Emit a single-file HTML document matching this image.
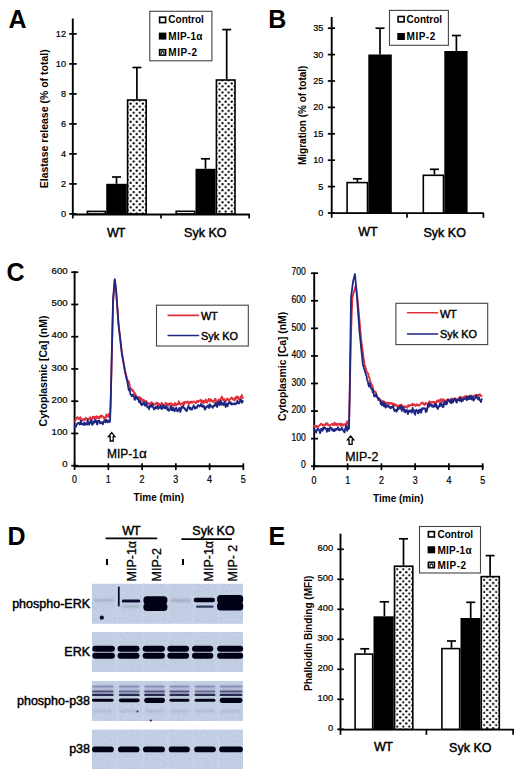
<!DOCTYPE html>
<html><head><meta charset="utf-8"><style>
html,body{margin:0;padding:0;background:#fff;}
svg{display:block;}
text{font-family:"Liberation Sans", sans-serif;fill:#000;}
</style></head><body>
<svg width="520" height="769" viewBox="0 0 520 769">
<defs><pattern id="d1" x="129.12" y="102.07" width="6.1" height="6.1" patternUnits="userSpaceOnUse"><rect width="6.1" height="6.1" fill="#fff"/><circle cx="1.525" cy="1.525" r="1.15" fill="#000"/><circle cx="4.575" cy="4.575" r="1.15" fill="#000"/></pattern><pattern id="d2" x="217.97" y="100.17" width="6.1" height="6.1" patternUnits="userSpaceOnUse"><rect width="6.1" height="6.1" fill="#fff"/><circle cx="1.525" cy="1.525" r="1.15" fill="#000"/><circle cx="4.575" cy="4.575" r="1.15" fill="#000"/></pattern><pattern id="d3" x="395.69" y="567.69" width="6.05" height="6.05" patternUnits="userSpaceOnUse"><rect width="6.05" height="6.05" fill="#fff"/><circle cx="1.512" cy="1.512" r="1.15" fill="#000"/><circle cx="4.537" cy="4.537" r="1.15" fill="#000"/></pattern><pattern id="d4" x="482.59" y="578.39" width="6.05" height="6.05" patternUnits="userSpaceOnUse"><rect width="6.05" height="6.05" fill="#fff"/><circle cx="1.512" cy="1.512" r="1.15" fill="#000"/><circle cx="4.537" cy="4.537" r="1.15" fill="#000"/></pattern><filter id="grain" x="0" y="0" width="100%" height="100%"><feTurbulence type="fractalNoise" baseFrequency="0.35 0.5" numOctaves="2" seed="3" result="n"/><feColorMatrix type="matrix" values="0 0 0 0 0.25  0 0 0 0 0.25  0 0 0 0 0.4  0 0 0 -2.2 1.25"/></filter><filter id="b1" x="-30%" y="-150%" width="160%" height="400%"><feGaussianBlur stdDeviation="0.1"/></filter><filter id="b2" x="-30%" y="-150%" width="160%" height="400%"><feGaussianBlur stdDeviation="0.2"/></filter><filter id="b3" x="-30%" y="-150%" width="160%" height="400%"><feGaussianBlur stdDeviation="0.3"/></filter><filter id="b4" x="-30%" y="-150%" width="160%" height="400%"><feGaussianBlur stdDeviation="0.4"/></filter><filter id="b5" x="-30%" y="-150%" width="160%" height="400%"><feGaussianBlur stdDeviation="0.5"/></filter><filter id="b6" x="-30%" y="-150%" width="160%" height="400%"><feGaussianBlur stdDeviation="0.6"/></filter><filter id="b7" x="-30%" y="-150%" width="160%" height="400%"><feGaussianBlur stdDeviation="0.7"/></filter><filter id="b8" x="-30%" y="-150%" width="160%" height="400%"><feGaussianBlur stdDeviation="0.8"/></filter><filter id="b9" x="-30%" y="-150%" width="160%" height="400%"><feGaussianBlur stdDeviation="0.9"/></filter><filter id="b10" x="-30%" y="-150%" width="160%" height="400%"><feGaussianBlur stdDeviation="1.0"/></filter><filter id="b11" x="-30%" y="-150%" width="160%" height="400%"><feGaussianBlur stdDeviation="1.1"/></filter><filter id="b12" x="-30%" y="-150%" width="160%" height="400%"><feGaussianBlur stdDeviation="1.2"/></filter><filter id="b13" x="-30%" y="-150%" width="160%" height="400%"><feGaussianBlur stdDeviation="1.3"/></filter><filter id="b14" x="-30%" y="-150%" width="160%" height="400%"><feGaussianBlur stdDeviation="1.4"/></filter></defs>
<rect width="520" height="769" fill="#fff"/>
<text x="8.6" y="27.5" font-size="25" font-weight="bold" text-anchor="start" >A</text>
<line x1="72.8" y1="18.5" x2="72.8" y2="215.3" stroke="#000" stroke-width="1.9"/>
<line x1="72" y1="214.5" x2="249.8" y2="214.5" stroke="#000" stroke-width="1.9"/>
<line x1="69.2" y1="213.9" x2="76.7" y2="213.9" stroke="#000" stroke-width="1.7"/>
<text transform="translate(66.00,216.70) scale(0.93,1)" font-size="9.9" text-anchor="end" stroke="#000" stroke-width="0.22">0</text>
<line x1="69.2" y1="183.9" x2="76.7" y2="183.9" stroke="#000" stroke-width="1.7"/>
<text transform="translate(66.00,186.70) scale(0.93,1)" font-size="9.9" text-anchor="end" stroke="#000" stroke-width="0.22">2</text>
<line x1="69.2" y1="153.9" x2="76.7" y2="153.9" stroke="#000" stroke-width="1.7"/>
<text transform="translate(66.00,156.70) scale(0.93,1)" font-size="9.9" text-anchor="end" stroke="#000" stroke-width="0.22">4</text>
<line x1="69.2" y1="123.9" x2="76.7" y2="123.9" stroke="#000" stroke-width="1.7"/>
<text transform="translate(66.00,126.70) scale(0.93,1)" font-size="9.9" text-anchor="end" stroke="#000" stroke-width="0.22">6</text>
<line x1="69.2" y1="93.9" x2="76.7" y2="93.9" stroke="#000" stroke-width="1.7"/>
<text transform="translate(66.00,96.70) scale(0.93,1)" font-size="9.9" text-anchor="end" stroke="#000" stroke-width="0.22">8</text>
<line x1="69.2" y1="63.900000000000006" x2="76.7" y2="63.900000000000006" stroke="#000" stroke-width="1.7"/>
<text transform="translate(66.00,66.70) scale(0.93,1)" font-size="9.9" text-anchor="end" stroke="#000" stroke-width="0.22">10</text>
<line x1="69.2" y1="33.900000000000006" x2="76.7" y2="33.900000000000006" stroke="#000" stroke-width="1.7"/>
<text transform="translate(66.00,36.70) scale(0.93,1)" font-size="9.9" text-anchor="end" stroke="#000" stroke-width="0.22">12</text>
<line x1="72.8" y1="214" x2="72.8" y2="218.5" stroke="#000" stroke-width="1.7"/>
<line x1="161.0" y1="214" x2="161.0" y2="218.5" stroke="#000" stroke-width="1.7"/>
<line x1="249.2" y1="214" x2="249.2" y2="218.5" stroke="#000" stroke-width="1.7"/>
<rect x="87.40" y="211.40" width="18.00" height="2.50" fill="#fff" stroke="#000" stroke-width="1.6"/>
<rect x="107.00" y="184.60" width="19.00" height="29.30" fill="#000" stroke="#000" stroke-width="1.6"/>
<rect x="127.60" y="100.00" width="18.60" height="113.90" fill="url(#d1)" stroke="#000" stroke-width="1.6"/>
<line x1="116.5" y1="177.0" x2="116.5" y2="183.8" stroke="#000" stroke-width="1.7"/>
<line x1="112.0" y1="177.0" x2="121.0" y2="177.0" stroke="#000" stroke-width="1.7"/>
<line x1="136.9" y1="67.5" x2="136.9" y2="99.2" stroke="#000" stroke-width="1.7"/>
<line x1="132.4" y1="67.5" x2="141.4" y2="67.5" stroke="#000" stroke-width="1.7"/>
<rect x="176.20" y="211.30" width="18.50" height="2.60" fill="#fff" stroke="#000" stroke-width="1.6"/>
<rect x="196.30" y="169.60" width="18.50" height="44.30" fill="#000" stroke="#000" stroke-width="1.6"/>
<rect x="216.40" y="80.00" width="18.60" height="133.90" fill="url(#d2)" stroke="#000" stroke-width="1.6"/>
<line x1="205.5" y1="158.8" x2="205.5" y2="168.8" stroke="#000" stroke-width="1.7"/>
<line x1="201.0" y1="158.8" x2="210.0" y2="158.8" stroke="#000" stroke-width="1.7"/>
<line x1="226.7" y1="29.6" x2="226.7" y2="79.2" stroke="#000" stroke-width="1.7"/>
<line x1="222.2" y1="29.6" x2="231.2" y2="29.6" stroke="#000" stroke-width="1.7"/>
<text x="115.8" y="236.6" font-size="12.5" font-weight="normal" text-anchor="middle" stroke="#000" stroke-width="0.45" letter-spacing="-0.9">WT</text>
<text x="205.3" y="236.9" font-size="12.5" font-weight="normal" text-anchor="middle" stroke="#000" stroke-width="0.45" >Syk KO</text>
<text transform="translate(47.9,118.8) rotate(-90)" x="0" y="0" font-size="10.5" font-weight="bold" text-anchor="middle" >Elastase release (% of total)</text>
<rect x="149.8" y="11.3" width="62.1" height="49.5" fill="none" stroke="#444" stroke-width="1.1" />
<rect x="159.60000000000002" y="17.2" width="6.0" height="5.4" fill="#fff" stroke="#000" stroke-width="1.6"/>
<text x="168.3" y="23.4" font-size="10" font-weight="bold" text-anchor="start" >Control</text>
<rect x="158.8" y="32.6" width="7.6" height="7.0" fill="#000"/>
<text x="168.3" y="39.6" font-size="10" font-weight="bold" text-anchor="start" letter-spacing="0.25">MIP-1α</text>
<rect x="159.60000000000002" y="49.699999999999996" width="6.0" height="5.4" fill="#fff" stroke="#000" stroke-width="1.6"/>
<path d="M161.20000000000002 54.1 L161.20000000000002 52.3 L162.60000000000002 51.199999999999996 L164.0 52.3 L164.0 54.1" fill="none" stroke="#000" stroke-width="1.1"/>
<text x="168.3" y="56.0" font-size="10" font-weight="bold" text-anchor="start" letter-spacing="0.55">MIP-2</text>
<text x="268.2" y="27.8" font-size="25" font-weight="bold" text-anchor="start" >B</text>
<line x1="331.7" y1="17.0" x2="331.7" y2="214.0" stroke="#000" stroke-width="1.9"/>
<line x1="330.8" y1="213.1" x2="483.8" y2="213.1" stroke="#000" stroke-width="1.9"/>
<line x1="327.8" y1="213.0" x2="335.0" y2="213.0" stroke="#000" stroke-width="1.7"/>
<text transform="translate(323.40,215.90) scale(0.93,1)" font-size="9.8" text-anchor="end" stroke="#000" stroke-width="0.22">0</text>
<line x1="327.8" y1="186.6" x2="335.0" y2="186.6" stroke="#000" stroke-width="1.7"/>
<text transform="translate(323.40,189.50) scale(0.93,1)" font-size="9.8" text-anchor="end" stroke="#000" stroke-width="0.22">5</text>
<line x1="327.8" y1="160.2" x2="335.0" y2="160.2" stroke="#000" stroke-width="1.7"/>
<text transform="translate(323.40,163.10) scale(0.93,1)" font-size="9.8" text-anchor="end" stroke="#000" stroke-width="0.22">10</text>
<line x1="327.8" y1="133.8" x2="335.0" y2="133.8" stroke="#000" stroke-width="1.7"/>
<text transform="translate(323.40,136.70) scale(0.93,1)" font-size="9.8" text-anchor="end" stroke="#000" stroke-width="0.22">15</text>
<line x1="327.8" y1="107.39999999999999" x2="335.0" y2="107.39999999999999" stroke="#000" stroke-width="1.7"/>
<text transform="translate(323.40,110.30) scale(0.93,1)" font-size="9.8" text-anchor="end" stroke="#000" stroke-width="0.22">20</text>
<line x1="327.8" y1="81.0" x2="335.0" y2="81.0" stroke="#000" stroke-width="1.7"/>
<text transform="translate(323.40,83.90) scale(0.93,1)" font-size="9.8" text-anchor="end" stroke="#000" stroke-width="0.22">25</text>
<line x1="327.8" y1="54.599999999999994" x2="335.0" y2="54.599999999999994" stroke="#000" stroke-width="1.7"/>
<text transform="translate(323.40,57.50) scale(0.93,1)" font-size="9.8" text-anchor="end" stroke="#000" stroke-width="0.22">30</text>
<line x1="327.8" y1="28.19999999999999" x2="335.0" y2="28.19999999999999" stroke="#000" stroke-width="1.7"/>
<text transform="translate(323.40,31.10) scale(0.93,1)" font-size="9.8" text-anchor="end" stroke="#000" stroke-width="0.22">35</text>
<line x1="331.7" y1="213" x2="331.7" y2="217.8" stroke="#000" stroke-width="1.7"/>
<line x1="407.0" y1="213" x2="407.0" y2="217.8" stroke="#000" stroke-width="1.7"/>
<line x1="483.4" y1="213" x2="483.4" y2="217.8" stroke="#000" stroke-width="1.7"/>
<rect x="347.10" y="182.60" width="20.40" height="30.40" fill="#fff" stroke="#000" stroke-width="1.6"/>
<rect x="369.10" y="55.30" width="21.90" height="157.70" fill="#000" stroke="#000" stroke-width="1.6"/>
<line x1="357.4" y1="178.8" x2="357.4" y2="181.8" stroke="#000" stroke-width="1.7"/>
<line x1="352.9" y1="178.8" x2="361.9" y2="178.8" stroke="#000" stroke-width="1.7"/>
<line x1="380.0" y1="28.2" x2="380.0" y2="54.5" stroke="#000" stroke-width="1.7"/>
<line x1="375.5" y1="28.2" x2="384.5" y2="28.2" stroke="#000" stroke-width="1.7"/>
<rect x="423.30" y="175.30" width="20.20" height="37.70" fill="#fff" stroke="#000" stroke-width="1.6"/>
<rect x="445.10" y="51.80" width="21.70" height="161.20" fill="#000" stroke="#000" stroke-width="1.6"/>
<line x1="434.4" y1="169.3" x2="434.4" y2="174.5" stroke="#000" stroke-width="1.7"/>
<line x1="429.9" y1="169.3" x2="438.9" y2="169.3" stroke="#000" stroke-width="1.7"/>
<line x1="456.4" y1="35.5" x2="456.4" y2="51.0" stroke="#000" stroke-width="1.7"/>
<line x1="451.9" y1="35.5" x2="460.9" y2="35.5" stroke="#000" stroke-width="1.7"/>
<text x="368.0" y="235.6" font-size="12.5" font-weight="normal" text-anchor="middle" stroke="#000" stroke-width="0.45" >WT</text>
<text x="444.7" y="236.8" font-size="12.5" font-weight="normal" text-anchor="middle" stroke="#000" stroke-width="0.45" >Syk KO</text>
<text transform="translate(305.6,115.3) rotate(-90)" x="0" y="0" font-size="10" font-weight="bold" text-anchor="middle" >Migration (% of total)</text>
<rect x="389.5" y="10.4" width="58.9" height="34.9" fill="none" stroke="#444" stroke-width="1.1" />
<rect x="398.1" y="16.5" width="6.0" height="5.4" fill="#fff" stroke="#000" stroke-width="1.6"/>
<text x="406.6" y="22.8" font-size="10" font-weight="bold" text-anchor="start" >Control</text>
<rect x="397.3" y="33.0" width="7.6" height="7.0" fill="#000"/>
<text x="406.6" y="40.1" font-size="10" font-weight="bold" text-anchor="start" letter-spacing="0.5">MIP-2</text>
<text x="6.5" y="280.9" font-size="25" font-weight="bold" text-anchor="start" >C</text>
<line x1="74.6" y1="271.0" x2="74.6" y2="467.0" stroke="#000" stroke-width="1.9"/>
<line x1="73.7" y1="466.3" x2="244.0" y2="466.3" stroke="#000" stroke-width="1.9"/>
<line x1="71.2" y1="465.7" x2="78.3" y2="465.7" stroke="#000" stroke-width="1.7"/>
<text transform="translate(67.60,467.30) scale(0.98,1)" font-size="9.8" text-anchor="end" stroke="#000" stroke-width="0.22">0</text>
<line x1="71.2" y1="433.45" x2="78.3" y2="433.45" stroke="#000" stroke-width="1.7"/>
<text transform="translate(67.60,435.05) scale(0.98,1)" font-size="9.8" text-anchor="end" stroke="#000" stroke-width="0.22">100</text>
<line x1="71.2" y1="401.2" x2="78.3" y2="401.2" stroke="#000" stroke-width="1.7"/>
<text transform="translate(67.60,402.80) scale(0.98,1)" font-size="9.8" text-anchor="end" stroke="#000" stroke-width="0.22">200</text>
<line x1="71.2" y1="368.95" x2="78.3" y2="368.95" stroke="#000" stroke-width="1.7"/>
<text transform="translate(67.60,370.55) scale(0.98,1)" font-size="9.8" text-anchor="end" stroke="#000" stroke-width="0.22">300</text>
<line x1="71.2" y1="336.7" x2="78.3" y2="336.7" stroke="#000" stroke-width="1.7"/>
<text transform="translate(67.60,338.30) scale(0.98,1)" font-size="9.8" text-anchor="end" stroke="#000" stroke-width="0.22">400</text>
<line x1="71.2" y1="304.45" x2="78.3" y2="304.45" stroke="#000" stroke-width="1.7"/>
<text transform="translate(67.60,306.05) scale(0.98,1)" font-size="9.8" text-anchor="end" stroke="#000" stroke-width="0.22">500</text>
<line x1="71.2" y1="272.2" x2="78.3" y2="272.2" stroke="#000" stroke-width="1.7"/>
<text transform="translate(67.60,273.80) scale(0.98,1)" font-size="9.8" text-anchor="end" stroke="#000" stroke-width="0.22">600</text>
<line x1="74.6" y1="463.3" x2="74.6" y2="470.0" stroke="#000" stroke-width="1.7"/>
<text transform="translate(74.60,482.60) scale(0.86,1)" font-size="10.4" text-anchor="middle" stroke="#000" stroke-width="0.22">0</text>
<line x1="108.35" y1="463.3" x2="108.35" y2="470.0" stroke="#000" stroke-width="1.7"/>
<text transform="translate(108.35,482.60) scale(0.86,1)" font-size="10.4" text-anchor="middle" stroke="#000" stroke-width="0.22">1</text>
<line x1="142.1" y1="463.3" x2="142.1" y2="470.0" stroke="#000" stroke-width="1.7"/>
<text transform="translate(142.10,482.60) scale(0.86,1)" font-size="10.4" text-anchor="middle" stroke="#000" stroke-width="0.22">2</text>
<line x1="175.85" y1="463.3" x2="175.85" y2="470.0" stroke="#000" stroke-width="1.7"/>
<text transform="translate(175.85,482.60) scale(0.86,1)" font-size="10.4" text-anchor="middle" stroke="#000" stroke-width="0.22">3</text>
<line x1="209.6" y1="463.3" x2="209.6" y2="470.0" stroke="#000" stroke-width="1.7"/>
<text transform="translate(209.60,482.60) scale(0.86,1)" font-size="10.4" text-anchor="middle" stroke="#000" stroke-width="0.22">4</text>
<line x1="243.35" y1="463.3" x2="243.35" y2="470.0" stroke="#000" stroke-width="1.7"/>
<text transform="translate(243.35,482.60) scale(0.86,1)" font-size="10.4" text-anchor="middle" stroke="#000" stroke-width="0.22">5</text>
<text x="158.8" y="500.8" font-size="10" font-weight="bold" text-anchor="middle" >Time (min)</text>
<text transform="translate(46.6,371.0) rotate(-90)" x="0" y="0" font-size="10.5" font-weight="bold" text-anchor="middle" >Cytoplasmic [Ca] (nM)</text>
<polyline points="74.60,420.55 75.00,421.32 75.41,420.31 75.81,418.96 76.22,417.95 76.62,418.55 77.03,417.78 77.43,416.96 77.84,418.18 78.24,418.71 78.65,419.37 79.05,418.22 79.46,418.55 79.86,418.64 80.27,417.22 80.67,418.54 81.08,418.97 81.48,421.24 81.89,420.17 82.30,419.28 82.70,420.19 83.10,419.60 83.51,420.00 83.91,418.91 84.32,418.93 84.72,419.74 85.13,419.80 85.53,419.24 85.94,417.74 86.34,418.50 86.75,418.50 87.16,419.13 87.56,418.92 87.97,419.68 88.37,418.90 88.78,418.75 89.18,419.13 89.59,417.55 89.99,417.43 90.40,417.25 90.80,419.63 91.20,418.73 91.61,419.02 92.02,419.11 92.42,418.24 92.83,416.52 93.23,418.16 93.64,417.60 94.04,418.42 94.45,416.80 94.85,416.84 95.26,418.54 95.66,419.55 96.06,417.31 96.47,416.14 96.88,416.83 97.28,417.93 97.69,417.90 98.09,418.01 98.50,416.76 98.90,417.70 99.31,418.68 99.71,417.61 100.12,416.06 100.52,415.94 100.93,417.39 101.33,415.60 101.74,416.34 102.14,415.79 102.55,416.36 102.95,416.52 103.36,416.84 103.76,418.48 104.17,418.20 104.57,418.96 104.98,417.85 105.38,416.94 105.79,417.33 106.19,414.29 106.60,415.56 107.00,416.37 107.41,415.37 107.81,416.56 108.22,416.11 108.62,413.97 108.76,415.16 108.89,414.98 109.03,415.34 109.16,415.88 109.30,417.56 109.43,416.72 109.57,416.71 109.70,416.70 109.84,416.69 109.97,416.68 110.11,415.13 110.24,412.04 110.38,408.94 110.51,405.84 110.65,402.75 110.78,398.40 110.92,392.81 111.05,387.22 111.19,381.63 111.32,376.04 111.46,370.45 111.59,364.86 111.73,359.27 111.86,353.79 112.00,348.31 112.13,342.83 112.27,337.34 112.40,331.86 112.54,326.38 112.67,320.90 112.81,315.41 112.94,309.93 113.08,304.45 113.21,302.51 113.35,300.58 113.48,298.64 113.62,296.71 113.75,294.77 113.89,292.84 114.02,290.90 114.16,288.97 114.29,287.03 114.43,285.10 114.56,283.16 114.70,281.23 114.83,280.83 114.97,281.96 115.10,283.08 115.24,284.21 115.37,285.34 115.51,286.47 115.64,287.60 115.78,288.73 115.91,289.86 116.05,290.99 116.18,292.47 116.32,294.31 116.45,296.16 116.59,298.00 116.72,299.84 116.86,301.69 116.99,303.53 117.13,305.37 117.26,307.21 117.40,309.06 117.53,310.90 117.67,312.74 117.80,314.59 117.94,316.43 118.07,318.27 118.21,320.11 118.34,321.96 118.48,323.80 118.61,324.94 118.75,326.07 118.88,327.21 119.02,328.34 119.15,329.48 119.29,330.61 119.42,331.75 119.56,332.88 119.69,334.02 119.83,335.15 119.96,336.29 120.10,337.42 120.23,338.56 120.37,339.69 120.50,340.83 120.64,341.96 120.77,343.10 120.91,344.23 121.04,345.37 121.18,346.50 121.31,347.64 121.45,348.77 121.58,349.91 121.72,351.04 121.85,352.18 121.99,352.95 122.12,353.73 122.26,354.50 122.39,355.28 122.53,356.05 122.66,356.82 122.80,357.60 122.93,358.37 123.07,359.15 123.20,359.92 123.34,360.69 123.47,361.47 123.61,362.24 123.74,363.02 123.88,363.79 124.01,364.56 124.15,365.34 124.28,366.11 124.42,366.89 124.55,367.66 124.69,368.43 124.82,369.21 124.96,369.98 125.09,370.76 125.23,371.53 125.63,373.08 126.04,374.63 126.44,376.17 126.85,377.72 127.25,379.12 127.66,380.36 128.06,383.27 128.47,383.34 128.87,381.50 129.28,383.77 129.68,384.96 130.09,387.20 130.49,387.75 130.90,388.46 131.30,389.60 131.71,389.72 132.11,390.54 132.52,389.58 132.92,391.20 133.33,390.92 133.73,391.37 134.14,392.97 134.54,394.22 134.95,393.16 135.35,395.87 135.76,394.86 136.16,396.01 136.57,396.94 136.97,396.91 137.38,397.07 137.78,399.01 138.19,399.31 138.59,399.24 139.00,396.98 139.40,396.97 139.81,398.97 140.21,399.09 140.62,398.09 141.02,397.99 141.43,398.37 141.83,399.64 142.24,400.07 142.64,400.98 143.05,399.71 143.45,400.97 143.86,400.21 144.26,400.12 144.67,402.19 145.07,401.66 145.48,401.28 145.88,401.10 146.29,400.93 146.69,402.88 147.10,403.76 147.50,403.63 147.91,403.12 148.31,403.82 148.72,403.14 149.12,403.33 149.53,403.38 149.93,403.11 150.34,404.56 150.74,405.42 151.15,405.44 151.55,402.24 151.96,404.41 152.36,404.39 152.77,403.25 153.17,403.13 153.58,404.25 153.98,404.88 154.39,404.89 154.79,404.21 155.20,403.79 155.60,404.40 156.01,403.80 156.41,402.72 156.82,402.48 157.22,402.87 157.63,403.56 158.03,405.86 158.44,403.40 158.84,404.04 159.25,403.82 159.65,404.13 160.06,405.35 160.46,405.88 160.87,404.77 161.27,403.84 161.68,402.59 162.08,403.28 162.49,404.96 162.89,404.26 163.30,404.89 163.70,405.20 164.11,405.05 164.51,405.66 164.92,404.77 165.32,403.61 165.73,402.68 166.13,404.32 166.54,403.85 166.94,403.66 167.35,404.72 167.75,403.62 168.16,405.63 168.56,405.53 168.97,404.29 169.37,403.56 169.78,404.91 170.18,403.32 170.59,403.07 170.99,403.59 171.40,404.05 171.80,404.09 172.21,404.48 172.61,403.93 173.02,403.89 173.42,405.26 173.83,405.33 174.23,404.27 174.64,405.90 175.04,403.01 175.45,403.64 175.85,404.54 176.26,405.25 176.66,404.73 177.07,403.96 177.47,404.52 177.88,404.00 178.28,404.39 178.69,401.24 179.09,402.88 179.50,402.51 179.90,404.03 180.31,404.58 180.71,404.82 181.12,403.79 181.52,404.09 181.93,403.44 182.33,403.66 182.74,403.40 183.14,402.51 183.55,404.90 183.95,404.82 184.36,401.98 184.76,403.49 185.17,401.94 185.57,402.30 185.98,402.12 186.38,402.05 186.79,402.78 187.19,402.55 187.60,401.30 188.00,402.09 188.41,402.84 188.81,404.60 189.22,403.28 189.62,401.83 190.03,401.89 190.43,402.93 190.84,401.90 191.24,401.52 191.65,402.59 192.05,402.54 192.46,402.73 192.86,401.96 193.27,401.35 193.67,401.53 194.08,401.77 194.48,401.69 194.89,402.40 195.29,402.85 195.70,403.06 196.10,403.07 196.51,401.70 196.91,400.75 197.32,402.19 197.72,402.09 198.13,402.14 198.53,400.86 198.94,401.15 199.34,400.84 199.75,400.45 200.15,400.47 200.56,399.59 200.96,400.71 201.37,402.34 201.77,401.25 202.18,401.50 202.58,400.41 202.99,401.61 203.39,403.39 203.80,401.16 204.20,401.03 204.61,402.60 205.01,402.30 205.42,401.89 205.82,399.50 206.23,400.18 206.63,401.57 207.04,402.76 207.44,402.55 207.85,401.20 208.25,400.40 208.66,398.84 209.06,398.79 209.47,400.94 209.87,400.76 210.28,399.43 210.68,401.40 211.09,399.38 211.49,401.28 211.90,400.63 212.30,400.94 212.70,401.42 213.11,401.23 213.51,402.12 213.92,401.29 214.32,400.51 214.73,399.77 215.13,398.59 215.54,398.74 215.94,400.47 216.35,401.16 216.75,402.05 217.16,403.81 217.56,402.66 217.97,401.85 218.37,399.61 218.78,399.54 219.18,401.93 219.59,401.44 219.99,400.50 220.40,400.46 220.80,398.22 221.21,398.14 221.61,397.61 222.02,396.49 222.42,398.82 222.83,400.16 223.23,399.67 223.64,399.93 224.04,398.69 224.45,399.51 224.85,400.21 225.26,401.31 225.66,401.87 226.07,401.05 226.47,400.01 226.88,398.77 227.28,398.36 227.69,399.35 228.09,399.78 228.50,399.42 228.90,400.87 229.31,400.56 229.71,399.76 230.12,399.13 230.52,399.06 230.93,397.98 231.33,397.39 231.74,398.41 232.14,397.96 232.55,398.03 232.95,399.54 233.36,398.86 233.76,400.01 234.17,399.24 234.57,400.36 234.98,399.85 235.38,397.36 235.79,399.08 236.19,398.48 236.60,396.41 237.00,397.43 237.41,397.96 237.81,396.76 238.22,396.82 238.62,397.99 239.03,399.42 239.43,399.85 239.84,400.12 240.24,400.14 240.65,396.52 241.05,396.45 241.46,397.31 241.86,394.84 242.27,397.05 242.67,398.26 243.08,397.17" fill="none" stroke="#e0303c" stroke-width="1.8" stroke-linejoin="round"/>
<polyline points="74.60,428.19 75.00,425.95 75.41,426.08 75.81,425.83 76.22,426.51 76.62,424.14 77.03,424.13 77.43,423.69 77.84,423.07 78.24,423.01 78.65,423.36 79.05,423.79 79.46,423.24 79.86,424.53 80.27,424.00 80.67,420.53 81.08,424.04 81.48,423.88 81.89,423.36 82.30,424.29 82.70,424.69 83.10,424.66 83.51,423.53 83.91,424.20 84.32,422.44 84.72,425.12 85.13,423.19 85.53,423.47 85.94,423.86 86.34,424.28 86.75,423.91 87.16,424.58 87.56,419.95 87.97,421.70 88.37,422.49 88.78,422.53 89.18,424.89 89.59,423.04 89.99,423.17 90.40,420.87 90.80,422.47 91.20,420.96 91.61,420.25 92.02,424.61 92.42,424.78 92.83,423.98 93.23,423.78 93.64,421.71 94.04,421.12 94.45,422.60 94.85,420.23 95.26,421.93 95.66,420.32 96.06,421.75 96.47,420.94 96.88,424.00 97.28,424.62 97.69,423.04 98.09,420.56 98.50,420.64 98.90,421.55 99.31,420.85 99.71,422.03 100.12,423.46 100.52,422.88 100.93,422.11 101.33,423.18 101.74,422.39 102.14,423.37 102.55,422.41 102.95,424.27 103.36,422.87 103.76,421.20 104.17,421.76 104.57,421.12 104.98,420.41 105.38,421.03 105.79,422.39 106.19,419.49 106.60,420.61 107.00,421.02 107.41,421.21 107.81,422.44 108.22,420.47 108.62,421.86 108.76,421.48 108.89,421.70 109.03,421.39 109.16,421.11 109.30,420.72 109.43,421.90 109.57,421.89 109.70,421.87 109.84,421.86 109.97,421.85 110.11,419.78 110.24,415.65 110.38,411.52 110.51,407.39 110.65,403.26 110.78,398.19 110.92,392.17 111.05,386.15 111.19,380.13 111.32,374.11 111.46,368.09 111.59,362.07 111.73,356.05 111.86,350.24 112.00,344.44 112.13,338.63 112.27,332.83 112.40,327.02 112.54,321.22 112.67,315.41 112.81,309.61 112.94,303.80 113.08,298.00 113.21,296.45 113.35,294.90 113.48,293.36 113.62,291.81 113.75,290.26 113.89,288.71 114.02,287.16 114.16,285.62 114.29,284.07 114.43,282.52 114.56,280.97 114.70,279.42 114.83,279.21 114.97,280.34 115.10,281.47 115.24,282.60 115.37,283.73 115.51,284.86 115.64,285.99 115.78,287.12 115.91,288.24 116.05,289.37 116.18,290.91 116.32,292.84 116.45,294.78 116.59,296.71 116.72,298.65 116.86,300.58 116.99,302.52 117.13,304.45 117.26,306.39 117.40,308.32 117.53,310.26 117.67,312.19 117.80,314.13 117.94,316.06 118.07,318.00 118.21,319.93 118.34,321.87 118.48,323.80 118.61,325.00 118.75,326.20 118.88,327.40 119.02,328.60 119.15,329.80 119.29,331.00 119.42,332.20 119.56,333.40 119.69,334.60 119.83,335.80 119.96,337.00 120.10,338.20 120.23,339.40 120.37,340.60 120.50,341.80 120.64,343.00 120.77,344.19 120.91,345.39 121.04,346.59 121.18,347.79 121.31,348.99 121.45,350.19 121.58,351.39 121.72,352.59 121.85,353.79 121.99,354.57 122.12,355.34 122.26,356.11 122.39,356.89 122.53,357.66 122.66,358.44 122.80,359.21 122.93,359.98 123.07,360.76 123.20,361.53 123.34,362.31 123.47,363.08 123.61,363.85 123.74,364.63 123.88,365.40 124.01,366.18 124.15,366.95 124.28,367.72 124.42,368.50 124.55,369.27 124.69,370.05 124.82,370.82 124.96,371.59 125.09,372.37 125.23,373.14 125.63,374.88 126.04,376.63 126.44,378.37 126.85,380.11 127.25,380.98 127.66,383.89 128.06,385.90 128.47,388.90 128.87,390.07 129.28,390.54 129.68,388.84 130.09,392.43 130.49,394.34 130.90,394.73 131.30,394.90 131.71,396.24 132.11,394.67 132.52,395.91 132.92,395.94 133.33,394.94 133.73,396.31 134.14,397.20 134.54,399.49 134.95,399.95 135.35,397.34 135.76,395.83 136.16,397.56 136.57,398.48 136.97,398.30 137.38,397.80 137.78,399.29 138.19,399.11 138.59,399.79 139.00,402.04 139.40,402.45 139.81,401.55 140.21,400.74 140.62,401.54 141.02,404.33 141.43,403.12 141.83,405.29 142.24,403.43 142.64,403.28 143.05,404.37 143.45,403.24 143.86,403.76 144.26,402.40 144.67,404.23 145.07,405.83 145.48,404.54 145.88,404.98 146.29,404.57 146.69,402.35 147.10,407.21 147.50,407.18 147.91,407.49 148.31,407.20 148.72,406.88 149.12,409.38 149.53,405.61 149.93,405.57 150.34,405.46 150.74,405.69 151.15,406.92 151.55,405.87 151.96,404.66 152.36,404.32 152.77,406.09 153.17,407.60 153.58,408.22 153.98,409.51 154.39,407.64 154.79,408.56 155.20,408.69 155.60,407.76 156.01,406.63 156.41,408.05 156.82,406.93 157.22,406.86 157.63,406.05 158.03,408.94 158.44,408.26 158.84,407.42 159.25,407.33 159.65,407.35 160.06,407.77 160.46,405.86 160.87,405.59 161.27,407.49 161.68,409.17 162.08,407.53 162.49,408.08 162.89,407.53 163.30,405.23 163.70,406.45 164.11,406.14 164.51,408.36 164.92,408.18 165.32,408.31 165.73,406.68 166.13,407.81 166.54,405.88 166.94,407.53 167.35,409.76 167.75,407.78 168.16,409.28 168.56,410.71 168.97,409.51 169.37,410.51 169.78,409.78 170.18,408.74 170.59,406.41 170.99,406.38 171.40,405.89 171.80,410.30 172.21,409.98 172.61,409.31 173.02,407.57 173.42,410.41 173.83,408.38 174.23,410.56 174.64,411.18 175.04,410.29 175.45,408.98 175.85,409.08 176.26,407.55 176.66,409.14 177.07,411.16 177.47,411.20 177.88,411.40 178.28,409.38 178.69,409.57 179.09,408.04 179.50,407.95 179.90,409.31 180.31,412.11 180.71,410.57 181.12,409.74 181.52,406.99 181.93,408.09 182.33,407.32 182.74,406.32 183.14,405.71 183.55,407.35 183.95,407.50 184.36,408.85 184.76,408.42 185.17,408.46 185.57,410.24 185.98,410.31 186.38,410.29 186.79,411.12 187.19,410.00 187.60,407.97 188.00,407.18 188.41,405.84 188.81,407.47 189.22,407.35 189.62,408.38 190.03,409.27 190.43,407.71 190.84,408.12 191.24,409.62 191.65,408.92 192.05,409.58 192.46,408.53 192.86,407.08 193.27,407.19 193.67,405.24 194.08,407.36 194.48,406.92 194.89,408.92 195.29,406.79 195.70,407.34 196.10,407.85 196.51,407.43 196.91,407.90 197.32,406.74 197.72,405.75 198.13,404.83 198.53,405.36 198.94,405.30 199.34,406.52 199.75,406.37 200.15,405.92 200.56,405.59 200.96,403.99 201.37,405.02 201.77,406.45 202.18,405.03 202.58,405.60 202.99,406.99 203.39,406.01 203.80,406.56 204.20,406.07 204.61,409.29 205.01,409.59 205.42,409.47 205.82,407.12 206.23,407.53 206.63,406.73 207.04,406.95 207.44,405.89 207.85,406.23 208.25,405.26 208.66,406.03 209.06,408.18 209.47,405.43 209.87,404.09 210.28,405.60 210.68,406.68 211.09,405.78 211.49,406.47 211.90,406.59 212.30,406.78 212.70,407.85 213.11,405.89 213.51,406.48 213.92,406.19 214.32,404.93 214.73,405.72 215.13,403.90 215.54,402.73 215.94,405.24 216.35,403.81 216.75,406.48 217.16,406.99 217.56,405.32 217.97,404.01 218.37,401.69 218.78,403.13 219.18,401.92 219.59,405.20 219.99,402.84 220.40,403.76 220.80,400.79 221.21,402.18 221.61,404.89 222.02,404.06 222.42,403.15 222.83,403.10 223.23,404.08 223.64,405.18 224.04,404.32 224.45,401.65 224.85,403.17 225.26,404.71 225.66,407.09 226.07,405.63 226.47,404.88 226.88,403.62 227.28,404.54 227.69,406.23 228.09,403.66 228.50,403.67 228.90,402.28 229.31,401.99 229.71,402.44 230.12,403.48 230.52,402.34 230.93,402.41 231.33,404.46 231.74,404.41 232.14,404.60 232.55,404.30 232.95,403.40 233.36,403.68 233.76,403.92 234.17,403.38 234.57,404.35 234.98,403.55 235.38,404.23 235.79,403.47 236.19,403.93 236.60,402.42 237.00,401.78 237.41,400.70 237.81,403.04 238.22,403.33 238.62,403.09 239.03,403.44 239.43,401.82 239.84,402.13 240.24,401.51 240.65,399.51 241.05,400.45 241.46,400.16 241.86,402.81 242.27,401.44 242.67,400.89 243.08,402.56" fill="none" stroke="#1d2682" stroke-width="1.8" stroke-linejoin="round"/>
<path d="M111.7 432.6 L114.9 436.5 L113.2 436.5 L113.2 441.0 L110.2 441.0 L110.2 436.5 L108.5 436.5 Z" fill="#fff" stroke="#000" stroke-width="1.3" stroke-linejoin="miter"/>
<text x="107.0" y="458.4" font-size="12" font-weight="normal" text-anchor="start" stroke="#000" stroke-width="0.3" >MIP-1</text>
<text x="139.0" y="458.4" font-size="13.5" font-weight="normal" text-anchor="start" stroke="#000" stroke-width="0.3" >α</text>
<rect x="156.5" y="305.2" width="91.8" height="40.8" fill="#fff" stroke="#444" stroke-width="1.1" />
<line x1="167.5" y1="315.4" x2="199.2" y2="315.4" stroke="#e0303c" stroke-width="1.6"/>
<text x="201.0" y="319.6" font-size="11" font-weight="normal" text-anchor="start" stroke="#000" stroke-width="0.42" letter-spacing="-0.3">WT</text>
<line x1="167.5" y1="335.5" x2="199.2" y2="335.5" stroke="#1d2682" stroke-width="1.6"/>
<text x="201.0" y="339.7" font-size="10.9" font-weight="normal" text-anchor="start" stroke="#000" stroke-width="0.42" >Syk KO</text>
<line x1="314.2" y1="272.5" x2="314.2" y2="467.0" stroke="#000" stroke-width="1.9"/>
<line x1="313.5" y1="466.3" x2="483.5" y2="466.3" stroke="#000" stroke-width="1.9"/>
<line x1="311.0" y1="466.2" x2="318.0" y2="466.2" stroke="#000" stroke-width="1.7"/>
<text transform="translate(305.90,468.40) scale(0.86,1)" font-size="10.0" text-anchor="end" stroke="#000" stroke-width="0.22">0</text>
<line x1="311.0" y1="438.63" x2="318.0" y2="438.63" stroke="#000" stroke-width="1.7"/>
<text transform="translate(305.90,440.83) scale(0.86,1)" font-size="10.0" text-anchor="end" stroke="#000" stroke-width="0.22">100</text>
<line x1="311.0" y1="411.06" x2="318.0" y2="411.06" stroke="#000" stroke-width="1.7"/>
<text transform="translate(305.90,413.26) scale(0.86,1)" font-size="10.0" text-anchor="end" stroke="#000" stroke-width="0.22">200</text>
<line x1="311.0" y1="383.49" x2="318.0" y2="383.49" stroke="#000" stroke-width="1.7"/>
<text transform="translate(305.90,385.69) scale(0.86,1)" font-size="10.0" text-anchor="end" stroke="#000" stroke-width="0.22">300</text>
<line x1="311.0" y1="355.91999999999996" x2="318.0" y2="355.91999999999996" stroke="#000" stroke-width="1.7"/>
<text transform="translate(305.90,358.12) scale(0.86,1)" font-size="10.0" text-anchor="end" stroke="#000" stroke-width="0.22">400</text>
<line x1="311.0" y1="328.35" x2="318.0" y2="328.35" stroke="#000" stroke-width="1.7"/>
<text transform="translate(305.90,330.55) scale(0.86,1)" font-size="10.0" text-anchor="end" stroke="#000" stroke-width="0.22">500</text>
<line x1="311.0" y1="300.78" x2="318.0" y2="300.78" stroke="#000" stroke-width="1.7"/>
<text transform="translate(305.90,302.98) scale(0.86,1)" font-size="10.0" text-anchor="end" stroke="#000" stroke-width="0.22">600</text>
<line x1="311.0" y1="273.21" x2="318.0" y2="273.21" stroke="#000" stroke-width="1.7"/>
<text transform="translate(305.90,275.41) scale(0.86,1)" font-size="10.0" text-anchor="end" stroke="#000" stroke-width="0.22">700</text>
<line x1="313.9" y1="463.3" x2="313.9" y2="470.0" stroke="#000" stroke-width="1.7"/>
<text transform="translate(313.90,483.70) scale(0.86,1)" font-size="10.4" text-anchor="middle" stroke="#000" stroke-width="0.22">0</text>
<line x1="347.65" y1="463.3" x2="347.65" y2="470.0" stroke="#000" stroke-width="1.7"/>
<text transform="translate(347.65,483.70) scale(0.86,1)" font-size="10.4" text-anchor="middle" stroke="#000" stroke-width="0.22">1</text>
<line x1="381.4" y1="463.3" x2="381.4" y2="470.0" stroke="#000" stroke-width="1.7"/>
<text transform="translate(381.40,483.70) scale(0.86,1)" font-size="10.4" text-anchor="middle" stroke="#000" stroke-width="0.22">2</text>
<line x1="415.15" y1="463.3" x2="415.15" y2="470.0" stroke="#000" stroke-width="1.7"/>
<text transform="translate(415.15,483.70) scale(0.86,1)" font-size="10.4" text-anchor="middle" stroke="#000" stroke-width="0.22">3</text>
<line x1="448.9" y1="463.3" x2="448.9" y2="470.0" stroke="#000" stroke-width="1.7"/>
<text transform="translate(448.90,483.70) scale(0.86,1)" font-size="10.4" text-anchor="middle" stroke="#000" stroke-width="0.22">4</text>
<line x1="482.65" y1="463.3" x2="482.65" y2="470.0" stroke="#000" stroke-width="1.7"/>
<text transform="translate(482.65,483.70) scale(0.86,1)" font-size="10.4" text-anchor="middle" stroke="#000" stroke-width="0.22">5</text>
<text x="398.3" y="501.6" font-size="10" font-weight="bold" text-anchor="middle" >Time (min)</text>
<text transform="translate(286.0,366.5) rotate(-90)" x="0" y="0" font-size="10.35" font-weight="bold" text-anchor="middle" >Cytoplasmic [Ca] (nM)</text>
<polyline points="313.90,426.01 314.30,426.83 314.71,425.71 315.11,426.48 315.52,425.98 315.92,425.71 316.33,427.08 316.73,426.54 317.14,426.11 317.54,426.43 317.95,426.85 318.35,426.25 318.76,426.36 319.16,425.32 319.57,425.21 319.97,425.09 320.38,424.40 320.78,423.92 321.19,423.58 321.59,424.38 322.00,424.81 322.40,424.91 322.81,425.22 323.21,424.38 323.62,424.83 324.02,425.27 324.43,425.83 324.83,424.99 325.24,424.86 325.64,423.66 326.05,424.11 326.45,423.13 326.86,423.18 327.26,424.96 327.67,423.52 328.07,424.89 328.48,425.24 328.88,424.95 329.29,425.34 329.69,425.57 330.10,426.03 330.50,425.36 330.91,424.76 331.31,424.44 331.72,424.00 332.12,424.43 332.53,424.12 332.94,425.25 333.34,423.74 333.75,423.52 334.15,423.50 334.56,422.68 334.96,425.06 335.37,423.21 335.77,423.77 336.18,423.87 336.58,425.43 336.99,423.65 337.39,424.89 337.80,424.24 338.20,424.31 338.61,423.97 339.01,424.70 339.41,423.82 339.82,424.10 340.23,424.54 340.63,425.79 341.03,423.43 341.44,424.99 341.84,425.35 342.25,424.52 342.65,424.65 343.06,424.16 343.46,425.38 343.87,424.98 344.27,424.47 344.68,424.19 345.08,424.06 345.49,424.00 345.89,423.47 346.30,425.25 346.70,423.35 347.11,421.20 347.51,422.55 347.92,423.20 348.06,423.89 348.19,423.83 348.32,423.84 348.46,424.17 348.60,424.78 348.73,424.03 348.87,424.03 349.00,424.02 349.13,418.67 349.27,413.32 349.40,407.97 349.54,402.62 349.68,397.27 349.81,390.93 349.94,384.59 350.08,378.25 350.22,371.91 350.35,365.57 350.49,359.23 350.62,352.89 350.75,346.55 350.89,340.21 351.02,333.86 351.16,330.25 351.30,326.64 351.43,323.03 351.56,319.42 351.70,315.81 351.83,312.19 351.97,308.58 352.11,304.97 352.24,301.36 352.38,297.75 352.51,297.22 352.64,296.70 352.78,296.18 352.92,295.65 353.05,295.13 353.19,294.60 353.32,294.08 353.45,293.56 353.59,293.03 353.73,292.51 353.86,292.05 354.00,291.59 354.13,291.13 354.26,290.67 354.40,290.21 354.54,289.75 354.67,289.29 354.81,288.83 354.94,288.37 355.07,287.91 355.21,287.45 355.35,286.99 355.48,286.54 355.62,286.08 355.75,285.62 355.88,286.63 356.02,287.64 356.16,288.65 356.29,289.66 356.43,290.67 356.56,291.68 356.69,292.69 356.83,293.70 356.97,294.71 357.10,295.73 357.24,296.74 357.37,297.75 357.50,298.76 357.64,299.77 357.77,300.78 357.91,302.32 358.05,303.87 358.18,305.41 358.31,306.96 358.45,308.50 358.59,310.04 358.72,311.59 358.86,313.13 358.99,314.68 359.12,316.22 359.26,317.76 359.39,319.31 359.53,320.85 359.67,322.39 359.80,323.94 359.94,325.48 360.07,327.03 360.21,328.57 360.34,330.11 360.48,331.66 360.61,333.20 360.75,334.75 360.88,336.29 361.01,337.83 361.15,339.38 361.29,340.38 361.42,341.39 361.56,342.39 361.69,343.39 361.82,344.40 361.96,345.40 362.10,346.40 362.23,347.41 362.37,348.41 362.50,349.41 362.63,350.42 362.77,351.42 362.91,352.42 363.04,353.43 363.18,354.43 363.31,355.43 363.44,356.44 363.58,357.44 363.72,358.45 363.85,359.45 363.99,360.45 364.12,361.46 364.25,362.46 364.39,363.46 364.53,364.47 364.93,365.66 365.34,366.85 365.74,368.04 366.15,369.23 366.55,371.01 366.96,372.43 367.36,372.77 367.76,373.25 368.17,373.39 368.58,376.33 368.98,377.06 369.38,378.09 369.79,379.59 370.20,382.36 370.60,381.73 371.00,383.40 371.41,384.26 371.81,385.63 372.22,385.11 372.62,386.25 373.03,388.10 373.44,389.95 373.84,391.31 374.25,390.70 374.65,391.45 375.06,392.12 375.46,391.99 375.87,392.30 376.27,394.41 376.68,395.53 377.08,396.23 377.49,397.95 377.89,397.39 378.30,398.17 378.70,398.34 379.11,398.51 379.51,399.11 379.92,399.32 380.32,399.63 380.73,399.91 381.13,401.36 381.54,400.64 381.94,401.35 382.35,401.55 382.75,401.11 383.16,401.83 383.56,401.17 383.97,402.38 384.37,401.74 384.78,401.78 385.18,402.35 385.59,403.05 385.99,403.52 386.40,403.80 386.80,403.22 387.21,402.47 387.61,403.21 388.02,403.46 388.42,402.77 388.83,403.83 389.23,403.88 389.64,403.15 390.04,403.82 390.45,402.98 390.85,402.94 391.25,403.87 391.66,403.02 392.07,403.77 392.47,403.23 392.88,404.48 393.28,404.14 393.69,404.67 394.09,403.81 394.50,404.25 394.90,405.43 395.31,405.73 395.71,404.26 396.12,405.49 396.52,406.10 396.93,405.54 397.33,406.54 397.74,405.33 398.14,405.42 398.55,406.34 398.95,406.95 399.36,407.26 399.76,405.78 400.17,404.58 400.57,405.52 400.98,404.74 401.38,405.28 401.79,404.77 402.19,406.18 402.60,406.72 403.00,406.85 403.41,406.55 403.81,406.45 404.22,406.18 404.62,406.55 405.03,406.66 405.43,406.78 405.84,406.20 406.24,407.51 406.65,407.01 407.05,407.51 407.46,407.70 407.86,406.21 408.27,404.88 408.67,406.25 409.08,405.76 409.48,405.81 409.89,405.58 410.29,405.71 410.70,404.82 411.10,405.11 411.51,404.98 411.91,405.20 412.32,403.66 412.72,405.08 413.13,405.42 413.53,404.12 413.94,404.14 414.34,404.66 414.75,405.31 415.15,405.17 415.56,406.05 415.96,405.51 416.37,404.49 416.77,404.19 417.18,405.00 417.58,404.44 417.99,405.14 418.39,405.60 418.80,405.50 419.20,405.72 419.61,404.97 420.01,404.69 420.42,404.11 420.82,403.76 421.23,402.89 421.63,403.13 422.04,402.85 422.44,402.43 422.85,403.29 423.25,403.91 423.66,403.62 424.06,404.64 424.47,404.82 424.87,404.95 425.28,403.83 425.68,402.61 426.09,403.40 426.49,403.59 426.90,403.95 427.30,403.88 427.71,404.40 428.11,403.54 428.52,403.75 428.92,402.72 429.33,401.19 429.73,401.69 430.14,403.27 430.54,401.81 430.95,402.93 431.35,402.27 431.76,402.10 432.16,402.29 432.57,402.47 432.97,401.70 433.38,402.05 433.78,402.42 434.19,402.84 434.59,401.91 435.00,403.02 435.40,403.79 435.81,404.50 436.21,402.19 436.62,402.07 437.02,400.55 437.43,401.32 437.83,401.80 438.24,400.81 438.64,399.98 439.05,400.77 439.45,401.44 439.86,400.75 440.26,400.74 440.67,399.12 441.07,399.55 441.48,400.33 441.88,400.69 442.29,401.84 442.69,400.47 443.10,398.98 443.50,400.09 443.91,399.89 444.31,400.36 444.72,400.87 445.12,401.01 445.53,401.64 445.93,401.85 446.34,399.82 446.74,399.89 447.15,401.33 447.55,400.34 447.96,400.77 448.36,400.23 448.77,399.68 449.17,400.77 449.58,400.92 449.98,400.06 450.38,400.40 450.79,398.99 451.19,398.67 451.60,399.62 452.00,399.45 452.41,398.57 452.81,399.16 453.22,399.34 453.62,400.07 454.03,400.18 454.43,399.34 454.84,398.74 455.24,398.66 455.65,398.52 456.05,399.61 456.46,400.21 456.86,400.32 457.27,399.66 457.67,398.86 458.08,399.24 458.48,398.52 458.89,398.54 459.29,397.19 459.70,397.35 460.10,398.71 460.51,397.63 460.91,396.74 461.32,397.19 461.72,398.67 462.13,399.22 462.53,398.21 462.94,397.58 463.34,397.50 463.75,396.86 464.15,397.18 464.56,397.08 464.96,396.17 465.37,396.32 465.77,396.59 466.18,396.28 466.58,395.91 466.99,397.12 467.39,398.39 467.80,397.47 468.20,396.89 468.61,397.22 469.01,396.85 469.42,396.25 469.82,397.45 470.23,396.31 470.63,395.94 471.04,395.77 471.44,395.51 471.85,395.80 472.25,396.49 472.66,397.42 473.06,397.31 473.47,396.79 473.87,395.60 474.28,395.81 474.68,395.28 475.09,395.57 475.49,396.45 475.90,396.32 476.30,395.93 476.71,395.34 477.11,395.52 477.52,395.68 477.92,395.01 478.33,394.94 478.73,395.85 479.14,394.50 479.54,394.65 479.95,394.19 480.35,395.84 480.76,395.97 481.16,395.95 481.57,395.83 481.97,395.67 482.38,395.56" fill="none" stroke="#e0303c" stroke-width="1.8" stroke-linejoin="round"/>
<polyline points="313.90,430.14 314.30,430.70 314.71,429.77 315.11,430.35 315.52,431.38 315.92,431.22 316.33,432.63 316.73,430.14 317.14,430.13 317.54,429.11 317.95,428.49 318.35,428.95 318.76,429.70 319.16,430.33 319.57,430.75 319.97,433.19 320.38,432.62 320.78,429.14 321.19,429.72 321.59,428.94 322.00,428.67 322.40,430.90 322.81,430.02 323.21,427.32 323.62,428.91 324.02,428.91 324.43,427.76 324.83,427.50 325.24,427.75 325.64,428.65 326.05,428.56 326.45,429.16 326.86,431.75 327.26,429.60 327.67,428.52 328.07,428.69 328.48,430.52 328.88,429.08 329.29,431.14 329.69,428.59 330.10,427.67 330.50,428.47 330.91,427.81 331.31,427.79 331.72,429.17 332.12,430.20 332.53,429.92 332.94,429.26 333.34,431.03 333.75,430.68 334.15,429.67 334.56,431.04 334.96,428.97 335.37,429.31 335.77,430.12 336.18,429.64 336.58,428.66 336.99,429.37 337.39,428.55 337.80,428.07 338.20,427.26 338.61,429.87 339.01,428.76 339.41,430.42 339.82,430.23 340.23,429.29 340.63,430.02 341.03,429.87 341.44,429.60 341.84,427.49 342.25,428.32 342.65,429.79 343.06,429.99 343.46,430.74 343.87,431.75 344.27,430.85 344.68,432.42 345.08,428.66 345.49,428.43 345.89,425.34 346.30,428.13 346.70,428.58 347.11,430.87 347.51,429.33 347.92,426.40 348.06,429.23 348.19,427.24 348.32,426.33 348.46,427.30 348.60,428.82 348.73,428.72 348.87,428.71 349.00,428.70 349.13,421.87 349.27,415.03 349.40,408.19 349.54,401.36 349.68,394.52 349.81,384.84 349.94,375.16 350.08,365.49 350.22,355.81 350.35,346.13 350.49,336.46 350.62,326.78 350.75,317.10 350.89,307.42 351.02,297.75 351.16,296.66 351.30,295.58 351.43,294.49 351.56,293.41 351.70,292.33 351.83,291.24 351.97,290.16 352.11,289.07 352.24,287.99 352.38,286.90 352.51,285.82 352.64,284.73 352.78,283.65 352.92,282.57 353.05,281.48 353.19,280.95 353.32,280.42 353.45,279.89 353.59,279.35 353.73,278.82 353.86,278.29 354.00,277.76 354.13,277.23 354.26,276.70 354.40,276.16 354.54,275.63 354.67,275.10 354.81,274.57 354.94,274.04 355.07,275.47 355.21,276.89 355.35,278.32 355.48,279.75 355.62,281.18 355.75,282.61 355.88,284.04 356.02,285.47 356.16,286.89 356.29,288.32 356.43,289.75 356.56,291.59 356.69,293.43 356.83,295.27 356.97,297.10 357.10,298.94 357.24,300.78 357.37,302.62 357.50,304.46 357.64,306.29 357.77,308.13 357.91,309.97 358.05,311.81 358.18,313.65 358.31,315.48 358.45,317.32 358.59,319.16 358.72,321.00 358.86,322.84 358.99,324.67 359.12,326.51 359.26,328.35 359.39,330.19 359.53,331.77 359.67,333.11 359.80,334.44 359.94,335.78 360.07,337.11 360.21,338.45 360.34,339.78 360.48,341.11 360.61,342.45 360.75,343.78 360.88,345.12 361.01,346.45 361.15,347.79 361.29,349.12 361.42,350.46 361.56,351.79 361.69,353.12 361.82,354.46 361.96,355.79 362.10,357.13 362.23,358.46 362.37,359.80 362.50,361.13 362.63,362.47 362.77,363.80 362.91,364.69 363.04,365.13 363.18,365.57 363.31,366.01 363.44,366.45 363.58,366.89 363.72,367.33 363.85,367.78 363.99,368.22 364.12,368.66 364.25,369.10 364.39,369.54 364.53,369.98 364.93,371.30 365.34,372.63 365.74,373.95 366.15,375.27 366.55,376.15 366.96,379.19 367.36,380.45 367.76,381.05 368.17,383.49 368.58,385.21 368.98,386.60 369.38,385.18 369.79,383.49 370.20,386.38 370.60,387.21 371.00,387.42 371.41,388.97 371.81,388.88 372.22,388.97 372.62,392.49 373.03,390.20 373.44,392.55 373.84,394.29 374.25,396.49 374.65,395.97 375.06,396.39 375.46,395.10 375.87,396.02 376.27,394.07 376.68,395.42 377.08,396.85 377.49,397.67 377.89,397.79 378.30,400.18 378.70,398.01 379.11,399.35 379.51,399.54 379.92,400.39 380.32,401.04 380.73,404.02 381.13,401.80 381.54,404.01 381.94,405.40 382.35,404.31 382.75,403.34 383.16,402.24 383.56,402.38 383.97,406.41 384.37,403.18 384.78,405.15 385.18,404.59 385.59,407.73 385.99,407.33 386.40,405.04 386.80,405.04 387.21,406.03 387.61,406.51 388.02,405.43 388.42,405.82 388.83,405.85 389.23,407.16 389.64,407.61 390.04,407.85 390.45,406.98 390.85,408.40 391.25,407.43 391.66,406.66 392.07,406.87 392.47,407.18 392.88,407.42 393.28,405.51 393.69,408.88 394.09,409.69 394.50,411.06 394.90,409.60 395.31,410.41 395.71,410.08 396.12,409.73 396.52,411.86 396.93,409.86 397.33,410.40 397.74,407.71 398.14,409.36 398.55,409.26 398.95,408.14 399.36,408.16 399.76,406.22 400.17,406.64 400.57,408.47 400.98,405.78 401.38,409.27 401.79,410.91 402.19,409.52 402.60,407.90 403.00,407.22 403.41,407.07 403.81,407.70 404.22,411.83 404.62,409.64 405.03,411.01 405.43,412.36 405.84,410.22 406.24,410.06 406.65,411.22 407.05,410.11 407.46,412.04 407.86,414.19 408.27,412.45 408.67,410.61 409.08,411.54 409.48,411.71 409.89,410.41 410.29,410.57 410.70,410.90 411.10,411.56 411.51,412.69 411.91,411.11 412.32,409.24 412.72,407.86 413.13,411.65 413.53,410.56 413.94,410.01 414.34,413.42 414.75,413.36 415.15,414.76 415.56,412.30 415.96,410.37 416.37,409.58 416.77,410.69 417.18,410.92 417.58,410.97 417.99,413.40 418.39,413.40 418.80,410.20 419.20,410.55 419.61,410.90 420.01,409.32 420.42,412.44 420.82,412.11 421.23,412.67 421.63,410.24 422.04,408.17 422.44,409.55 422.85,408.95 423.25,408.09 423.66,408.25 424.06,408.66 424.47,408.72 424.87,408.24 425.28,408.82 425.68,412.22 426.09,411.63 426.49,409.08 426.90,411.07 427.30,408.73 427.71,406.12 428.11,404.97 428.52,403.48 428.92,406.84 429.33,405.53 429.73,404.40 430.14,404.90 430.54,405.56 430.95,404.48 431.35,404.76 431.76,405.58 432.16,406.78 432.57,405.26 432.97,406.39 433.38,406.52 433.78,406.90 434.19,405.63 434.59,404.11 435.00,406.07 435.40,406.50 435.81,405.03 436.21,404.09 436.62,405.49 437.02,407.87 437.43,406.85 437.83,409.10 438.24,407.29 438.64,406.37 439.05,406.04 439.45,406.61 439.86,403.46 440.26,403.99 440.67,405.66 441.07,402.75 441.48,403.59 441.88,404.62 442.29,406.34 442.69,406.96 443.10,405.13 443.50,406.90 443.91,403.59 444.31,401.50 444.72,403.96 445.12,404.28 445.53,402.02 445.93,403.74 446.34,404.27 446.74,404.29 447.15,402.72 447.55,400.79 447.96,399.24 448.36,400.33 448.77,400.90 449.17,400.69 449.58,400.50 449.98,402.31 450.38,400.49 450.79,400.06 451.19,403.38 451.60,401.58 452.00,400.65 452.41,402.37 452.81,399.45 453.22,402.43 453.62,400.10 454.03,399.48 454.43,398.55 454.84,398.48 455.24,398.70 455.65,400.95 456.05,400.74 456.46,402.49 456.86,402.55 457.27,399.91 457.67,400.20 458.08,399.49 458.48,399.34 458.89,399.96 459.29,400.55 459.70,400.90 460.10,397.70 460.51,398.63 460.91,398.67 461.32,401.68 461.72,400.41 462.13,400.02 462.53,399.84 462.94,400.73 463.34,398.62 463.75,398.87 464.15,398.96 464.56,399.11 464.96,398.85 465.37,398.31 465.77,398.82 466.18,397.22 466.58,400.24 466.99,399.59 467.39,396.87 467.80,397.50 468.20,399.40 468.61,398.82 469.01,398.56 469.42,395.61 469.82,398.97 470.23,398.83 470.63,396.09 471.04,396.67 471.44,399.44 471.85,399.39 472.25,396.88 472.66,396.82 473.06,397.82 473.47,400.68 473.87,399.69 474.28,399.82 474.68,398.47 475.09,398.25 475.49,396.74 475.90,395.55 476.30,394.87 476.71,395.51 477.11,398.22 477.52,397.86 477.92,399.27 478.33,399.39 478.73,398.61 479.14,397.34 479.54,400.15 479.95,400.20 480.35,400.34 480.76,402.03 481.16,401.56 481.57,399.61 481.97,398.82 482.38,398.62" fill="none" stroke="#1d2682" stroke-width="1.8" stroke-linejoin="round"/>
<path d="M350.6 436.0 L353.8 439.9 L352.1 439.9 L352.1 444.3 L349.1 444.3 L349.1 439.9 L347.40000000000003 439.9 Z" fill="#fff" stroke="#000" stroke-width="1.3" stroke-linejoin="miter"/>
<text x="345.3" y="460.5" font-size="12.4" font-weight="normal" text-anchor="start" stroke="#000" stroke-width="0.3" >MIP-2</text>
<rect x="395.9" y="303.3" width="91.8" height="41.3" fill="#fff" stroke="#444" stroke-width="1.1" />
<line x1="406.9" y1="312.8" x2="438.2" y2="312.8" stroke="#e0303c" stroke-width="1.6"/>
<text x="440.0" y="317.5" font-size="11" font-weight="normal" text-anchor="start" stroke="#000" stroke-width="0.42" letter-spacing="-0.3">WT</text>
<line x1="406.9" y1="334.0" x2="438.2" y2="334.0" stroke="#1d2682" stroke-width="1.6"/>
<text x="440.0" y="338.2" font-size="10.9" font-weight="normal" text-anchor="start" stroke="#000" stroke-width="0.42" >Syk KO</text>
<text x="7.4" y="545.0" font-size="25" font-weight="bold" text-anchor="start" >D</text>
<text x="130.9" y="534.5" font-size="12.5" font-weight="normal" text-anchor="middle" stroke="#000" stroke-width="0.45" letter-spacing="-1.0">WT</text>
<line x1="105.6" y1="538.4" x2="157.2" y2="538.4" stroke="#000" stroke-width="1.8"/>
<text x="213.5" y="534.5" font-size="12.5" font-weight="normal" text-anchor="middle" stroke="#000" stroke-width="0.45" >Syk KO</text>
<line x1="181.4" y1="539.1" x2="231.8" y2="539.1" stroke="#000" stroke-width="1.8"/>
<line x1="107.0" y1="559.0" x2="107.0" y2="565.0" stroke="#000" stroke-width="2.0"/>
<line x1="183.0" y1="559.0" x2="183.0" y2="565.0" stroke="#000" stroke-width="2.0"/>
<text transform="translate(135.8,581.5) rotate(-90)" x="0" y="0" font-size="12.5" stroke="#000" stroke-width="0.3">MIP-1α</text>
<text transform="translate(161.10000000000002,581.5) rotate(-90)" x="0" y="0" font-size="12.5" stroke="#000" stroke-width="0.3">MIP-2</text>
<text transform="translate(213.0,581.5) rotate(-90)" x="0" y="0" font-size="12.5" stroke="#000" stroke-width="0.3">MIP-1α</text>
<text transform="translate(237.0,581.5) rotate(-90)" x="0" y="0" font-size="12.5" stroke="#000" stroke-width="0.3">MIP- 2</text>
<rect x="92" y="583.8" width="151" height="40.0" fill="#c4d0e5"/>
<rect x="92" y="583.8" width="151" height="40.0" fill="#fff" filter="url(#grain)" opacity="0.16"/>
<rect x="115.5" y="583.8" width="3" height="40.0" fill="#cdd7ea" opacity="0.35"/>
<rect x="141.5" y="583.8" width="3" height="40.0" fill="#cdd7ea" opacity="0.35"/>
<rect x="166.5" y="583.8" width="3" height="40.0" fill="#cdd7ea" opacity="0.35"/>
<rect x="191.5" y="583.8" width="3" height="40.0" fill="#cdd7ea" opacity="0.35"/>
<rect x="217.0" y="583.8" width="3" height="40.0" fill="#cdd7ea" opacity="0.35"/>
<rect x="92" y="632.0" width="151" height="40.0" fill="#c4d0e5"/>
<rect x="92" y="632.0" width="151" height="40.0" fill="#fff" filter="url(#grain)" opacity="0.16"/>
<rect x="115.5" y="632.0" width="3" height="40.0" fill="#cdd7ea" opacity="0.35"/>
<rect x="141.5" y="632.0" width="3" height="40.0" fill="#cdd7ea" opacity="0.35"/>
<rect x="166.5" y="632.0" width="3" height="40.0" fill="#cdd7ea" opacity="0.35"/>
<rect x="191.5" y="632.0" width="3" height="40.0" fill="#cdd7ea" opacity="0.35"/>
<rect x="217.0" y="632.0" width="3" height="40.0" fill="#cdd7ea" opacity="0.35"/>
<rect x="92" y="681.0" width="151" height="40.0" fill="#c4d0e5"/>
<rect x="92" y="681.0" width="151" height="40.0" fill="#fff" filter="url(#grain)" opacity="0.16"/>
<rect x="115.5" y="681.0" width="3" height="40.0" fill="#cdd7ea" opacity="0.35"/>
<rect x="141.5" y="681.0" width="3" height="40.0" fill="#cdd7ea" opacity="0.35"/>
<rect x="166.5" y="681.0" width="3" height="40.0" fill="#cdd7ea" opacity="0.35"/>
<rect x="191.5" y="681.0" width="3" height="40.0" fill="#cdd7ea" opacity="0.35"/>
<rect x="217.0" y="681.0" width="3" height="40.0" fill="#cdd7ea" opacity="0.35"/>
<rect x="92" y="729.6" width="151" height="40.39999999999998" fill="#c4d0e5"/>
<rect x="92" y="729.6" width="151" height="40.39999999999998" fill="#fff" filter="url(#grain)" opacity="0.16"/>
<rect x="115.5" y="729.6" width="3" height="40.39999999999998" fill="#cdd7ea" opacity="0.35"/>
<rect x="141.5" y="729.6" width="3" height="40.39999999999998" fill="#cdd7ea" opacity="0.35"/>
<rect x="166.5" y="729.6" width="3" height="40.39999999999998" fill="#cdd7ea" opacity="0.35"/>
<rect x="191.5" y="729.6" width="3" height="40.39999999999998" fill="#cdd7ea" opacity="0.35"/>
<rect x="217.0" y="729.6" width="3" height="40.39999999999998" fill="#cdd7ea" opacity="0.35"/>
<rect x="94" y="599.40" width="20.00" height="1.8" rx="0.9" fill="#8e97ae" opacity="0.8" filter="url(#b8)"/>
<rect x="121.8" y="599.50" width="18.50" height="3.0" rx="1.5" fill="#101030" opacity="1.0" filter="url(#b6)"/>
<rect x="122" y="605.70" width="18.00" height="1.6" rx="0.8" fill="#7d86a0" opacity="0.7" filter="url(#b8)"/>
<rect x="117.9" y="586.5" width="1.8" height="20" rx="0.9" fill="#0b0b22" filter="url(#b4)"/>
<rect x="143.4" y="596.30" width="24.00" height="8.0" rx="3.5" fill="#050512" opacity="1.0" filter="url(#b6)"/>
<rect x="143.4" y="603.00" width="24.00" height="8.0" rx="3.5" fill="#050512" opacity="1.0" filter="url(#b6)"/>
<rect x="171" y="599.40" width="19.30" height="2.2" rx="1.1" fill="#8e97ae" opacity="0.9" filter="url(#b8)"/>
<rect x="193.7" y="597.70" width="21.30" height="4.6" rx="2.3" fill="#050512" opacity="1.0" filter="url(#b6)"/>
<rect x="196" y="605.60" width="17.50" height="2.2" rx="1.1" fill="#2a3358" opacity="0.95" filter="url(#b6)"/>
<rect x="217.1" y="595.10" width="26.10" height="8.4" rx="3.5" fill="#050512" opacity="1.0" filter="url(#b6)"/>
<rect x="217.1" y="602.10" width="26.10" height="8.4" rx="3.5" fill="#050512" opacity="1.0" filter="url(#b6)"/>
<circle cx="101.8" cy="617.7" r="2.1" fill="#0b0b22" filter="url(#b4)"/>
<rect x="92.3" y="645.70" width="22.60" height="6.0" rx="3.0" fill="#050512" opacity="1.0" filter="url(#b6)"/>
<rect x="92.3" y="652.80" width="22.60" height="6.0" rx="3.0" fill="#050512" opacity="1.0" filter="url(#b6)"/>
<rect x="117.5" y="645.70" width="22.00" height="6.0" rx="3.0" fill="#050512" opacity="1.0" filter="url(#b6)"/>
<rect x="117.5" y="652.80" width="22.00" height="6.0" rx="3.0" fill="#050512" opacity="1.0" filter="url(#b6)"/>
<rect x="142.6" y="645.70" width="22.30" height="6.0" rx="3.0" fill="#050512" opacity="1.0" filter="url(#b6)"/>
<rect x="142.6" y="652.80" width="22.30" height="6.0" rx="3.0" fill="#050512" opacity="1.0" filter="url(#b6)"/>
<rect x="167.3" y="645.70" width="21.80" height="6.0" rx="3.0" fill="#050512" opacity="1.0" filter="url(#b6)"/>
<rect x="167.3" y="652.80" width="21.80" height="6.0" rx="3.0" fill="#050512" opacity="1.0" filter="url(#b6)"/>
<rect x="192" y="645.70" width="21.30" height="6.0" rx="3.0" fill="#050512" opacity="1.0" filter="url(#b6)"/>
<rect x="192" y="652.80" width="21.30" height="6.0" rx="3.0" fill="#050512" opacity="1.0" filter="url(#b6)"/>
<rect x="217.1" y="645.70" width="26.10" height="6.0" rx="3.0" fill="#050512" opacity="1.0" filter="url(#b6)"/>
<rect x="217.1" y="652.80" width="26.10" height="6.0" rx="3.0" fill="#050512" opacity="1.0" filter="url(#b6)"/>
<rect x="92" y="685.50" width="21.60" height="10.0" rx="3.5" fill="#8a8ab4" opacity="0.3" filter="url(#b14)"/>
<rect x="92" y="685.50" width="21.60" height="2.0" rx="1.0" fill="#6a6a98" opacity="0.55" filter="url(#b7)"/>
<rect x="92" y="690.60" width="21.60" height="2.0" rx="1.0" fill="#3a3a6a" opacity="0.8" filter="url(#b5)"/>
<rect x="92" y="693.70" width="21.60" height="2.4" rx="1.2" fill="#1c1c44" opacity="0.92" filter="url(#b5)"/>
<rect x="92" y="698.85" width="21.60" height="2.9" rx="1.45" fill="#050512" opacity="1.0" filter="url(#b6)"/>
<rect x="93" y="710.10" width="19.60" height="1.8" rx="0.9" fill="#8a90aa" opacity="0.4" filter="url(#b8)"/>
<rect x="118.9" y="685.50" width="20.70" height="10.0" rx="3.5" fill="#8a8ab4" opacity="0.3" filter="url(#b14)"/>
<rect x="118.9" y="685.50" width="20.70" height="2.0" rx="1.0" fill="#6a6a98" opacity="0.55" filter="url(#b7)"/>
<rect x="118.9" y="690.60" width="20.70" height="2.0" rx="1.0" fill="#3a3a6a" opacity="0.6" filter="url(#b5)"/>
<rect x="118.9" y="693.70" width="20.70" height="2.4" rx="1.2" fill="#1c1c44" opacity="0.92" filter="url(#b5)"/>
<rect x="118.9" y="698.40" width="20.70" height="3.8" rx="1.9" fill="#050512" opacity="1.0" filter="url(#b6)"/>
<rect x="119.9" y="710.10" width="18.70" height="1.8" rx="0.9" fill="#8a90aa" opacity="0.4" filter="url(#b8)"/>
<rect x="144.2" y="685.50" width="20.70" height="10.0" rx="3.5" fill="#8a8ab4" opacity="0.3" filter="url(#b14)"/>
<rect x="144.2" y="685.50" width="20.70" height="2.0" rx="1.0" fill="#6a6a98" opacity="0.55" filter="url(#b7)"/>
<rect x="144.2" y="690.60" width="20.70" height="2.0" rx="1.0" fill="#3a3a6a" opacity="0.8" filter="url(#b5)"/>
<rect x="144.2" y="693.70" width="20.70" height="2.4" rx="1.2" fill="#1c1c44" opacity="0.92" filter="url(#b5)"/>
<rect x="144.2" y="697.70" width="20.70" height="5.2" rx="2.6" fill="#050512" opacity="1.0" filter="url(#b6)"/>
<rect x="145.2" y="710.10" width="18.70" height="1.8" rx="0.9" fill="#8a90aa" opacity="0.4" filter="url(#b8)"/>
<rect x="169.5" y="685.50" width="19.90" height="10.0" rx="3.5" fill="#8a8ab4" opacity="0.3" filter="url(#b14)"/>
<rect x="169.5" y="685.50" width="19.90" height="2.0" rx="1.0" fill="#6a6a98" opacity="0.55" filter="url(#b7)"/>
<rect x="169.5" y="690.60" width="19.90" height="2.0" rx="1.0" fill="#3a3a6a" opacity="0.8" filter="url(#b5)"/>
<rect x="169.5" y="693.70" width="19.90" height="2.4" rx="1.2" fill="#1c1c44" opacity="0.92" filter="url(#b5)"/>
<rect x="169.5" y="698.85" width="19.90" height="2.9" rx="1.45" fill="#050512" opacity="1.0" filter="url(#b6)"/>
<rect x="170.5" y="710.10" width="17.90" height="1.8" rx="0.9" fill="#8a90aa" opacity="0.4" filter="url(#b8)"/>
<rect x="194.6" y="685.50" width="20.80" height="10.0" rx="3.5" fill="#8a8ab4" opacity="0.3" filter="url(#b14)"/>
<rect x="194.6" y="685.50" width="20.80" height="2.0" rx="1.0" fill="#6a6a98" opacity="0.55" filter="url(#b7)"/>
<rect x="194.6" y="690.60" width="20.80" height="2.0" rx="1.0" fill="#3a3a6a" opacity="0.6" filter="url(#b5)"/>
<rect x="194.6" y="693.70" width="20.80" height="2.4" rx="1.2" fill="#1c1c44" opacity="0.92" filter="url(#b5)"/>
<rect x="194.6" y="698.75" width="20.80" height="3.1" rx="1.55" fill="#050512" opacity="1.0" filter="url(#b6)"/>
<rect x="195.6" y="710.10" width="18.80" height="1.8" rx="0.9" fill="#8a90aa" opacity="0.4" filter="url(#b8)"/>
<rect x="219.7" y="685.50" width="22.70" height="10.0" rx="3.5" fill="#8a8ab4" opacity="0.3" filter="url(#b14)"/>
<rect x="219.7" y="685.50" width="22.70" height="2.0" rx="1.0" fill="#6a6a98" opacity="0.55" filter="url(#b7)"/>
<rect x="219.7" y="690.60" width="22.70" height="2.0" rx="1.0" fill="#3a3a6a" opacity="0.8" filter="url(#b5)"/>
<rect x="219.7" y="693.70" width="22.70" height="2.4" rx="1.2" fill="#1c1c44" opacity="0.92" filter="url(#b5)"/>
<rect x="219.7" y="697.70" width="22.70" height="5.2" rx="2.6" fill="#050512" opacity="1.0" filter="url(#b6)"/>
<rect x="220.7" y="710.10" width="20.70" height="1.8" rx="0.9" fill="#8a90aa" opacity="0.4" filter="url(#b8)"/>
<circle cx="137.5" cy="711.5" r="1.0" fill="#334" filter="url(#b4)"/>
<circle cx="150.8" cy="720.5" r="1.1" fill="#223" filter="url(#b4)"/>
<rect x="92" y="746.60" width="21.80" height="5.6" rx="2.8" fill="#050512" opacity="1.0" filter="url(#b6)"/>
<rect x="118" y="746.60" width="21.50" height="5.6" rx="2.8" fill="#050512" opacity="1.0" filter="url(#b6)"/>
<rect x="143" y="746.60" width="21.90" height="5.6" rx="2.8" fill="#050512" opacity="1.0" filter="url(#b6)"/>
<rect x="168.7" y="746.60" width="21.10" height="5.6" rx="2.8" fill="#050512" opacity="1.0" filter="url(#b6)"/>
<rect x="194.2" y="746.60" width="21.60" height="5.6" rx="2.8" fill="#050512" opacity="1.0" filter="url(#b6)"/>
<rect x="219.2" y="746.60" width="23.70" height="5.6" rx="2.8" fill="#050512" opacity="1.0" filter="url(#b6)"/>
<text x="90.0" y="607.5" font-size="12.5" font-weight="normal" text-anchor="end" stroke="#000" stroke-width="0.45" >phospho-ERK</text>
<text x="90.0" y="656.0" font-size="12.5" font-weight="normal" text-anchor="end" stroke="#000" stroke-width="0.45" >ERK</text>
<text x="90.0" y="705.0" font-size="12.5" font-weight="normal" text-anchor="end" stroke="#000" stroke-width="0.45" >phospho-p38</text>
<text x="90.0" y="753.1" font-size="12.5" font-weight="normal" text-anchor="end" stroke="#000" stroke-width="0.45" >p38</text>
<text x="268.6" y="545.0" font-size="25" font-weight="bold" text-anchor="start" >E</text>
<line x1="340.5" y1="533.7" x2="340.5" y2="730.5" stroke="#000" stroke-width="1.9"/>
<line x1="339.6" y1="729.6" x2="513.9" y2="729.6" stroke="#000" stroke-width="1.9"/>
<line x1="337.3" y1="729.3" x2="343.8" y2="729.3" stroke="#000" stroke-width="1.7"/>
<text transform="translate(333.20,730.70) scale(0.95,1)" font-size="9.9" text-anchor="end" stroke="#000" stroke-width="0.22">0</text>
<line x1="337.3" y1="699.3" x2="343.8" y2="699.3" stroke="#000" stroke-width="1.7"/>
<text transform="translate(333.20,700.70) scale(0.95,1)" font-size="9.9" text-anchor="end" stroke="#000" stroke-width="0.22">100</text>
<line x1="337.3" y1="669.3" x2="343.8" y2="669.3" stroke="#000" stroke-width="1.7"/>
<text transform="translate(333.20,670.70) scale(0.95,1)" font-size="9.9" text-anchor="end" stroke="#000" stroke-width="0.22">200</text>
<line x1="337.3" y1="639.3" x2="343.8" y2="639.3" stroke="#000" stroke-width="1.7"/>
<text transform="translate(333.20,640.70) scale(0.95,1)" font-size="9.9" text-anchor="end" stroke="#000" stroke-width="0.22">300</text>
<line x1="337.3" y1="609.3" x2="343.8" y2="609.3" stroke="#000" stroke-width="1.7"/>
<text transform="translate(333.20,610.70) scale(0.95,1)" font-size="9.9" text-anchor="end" stroke="#000" stroke-width="0.22">400</text>
<line x1="337.3" y1="579.3" x2="343.8" y2="579.3" stroke="#000" stroke-width="1.7"/>
<text transform="translate(333.20,580.70) scale(0.95,1)" font-size="9.9" text-anchor="end" stroke="#000" stroke-width="0.22">500</text>
<line x1="337.3" y1="549.3" x2="343.8" y2="549.3" stroke="#000" stroke-width="1.7"/>
<text transform="translate(333.20,550.70) scale(0.95,1)" font-size="9.9" text-anchor="end" stroke="#000" stroke-width="0.22">600</text>
<line x1="340.5" y1="729" x2="340.5" y2="734.8" stroke="#000" stroke-width="1.7"/>
<line x1="426.4" y1="729" x2="426.4" y2="734.8" stroke="#000" stroke-width="1.7"/>
<line x1="513.1" y1="729" x2="513.1" y2="734.8" stroke="#000" stroke-width="1.7"/>
<rect x="355.10" y="654.10" width="17.60" height="75.20" fill="#fff" stroke="#000" stroke-width="1.6"/>
<rect x="374.30" y="617.10" width="18.60" height="112.20" fill="#000" stroke="#000" stroke-width="1.6"/>
<rect x="394.50" y="566.20" width="18.30" height="163.10" fill="url(#d3)" stroke="#000" stroke-width="1.6"/>
<line x1="364.8" y1="648.8" x2="364.8" y2="653.3" stroke="#000" stroke-width="1.7"/>
<line x1="360.3" y1="648.8" x2="369.3" y2="648.8" stroke="#000" stroke-width="1.7"/>
<line x1="384.4" y1="601.8" x2="384.4" y2="616.3" stroke="#000" stroke-width="1.7"/>
<line x1="379.7" y1="601.8" x2="389.09999999999997" y2="601.8" stroke="#000" stroke-width="1.7"/>
<line x1="403.5" y1="538.8" x2="403.5" y2="565.4" stroke="#000" stroke-width="1.7"/>
<line x1="399.0" y1="538.8" x2="408.0" y2="538.8" stroke="#000" stroke-width="1.7"/>
<rect x="441.90" y="648.60" width="17.80" height="80.70" fill="#fff" stroke="#000" stroke-width="1.6"/>
<rect x="461.30" y="618.80" width="18.30" height="110.50" fill="#000" stroke="#000" stroke-width="1.6"/>
<rect x="481.20" y="576.60" width="18.10" height="152.70" fill="url(#d4)" stroke="#000" stroke-width="1.6"/>
<line x1="451.5" y1="641.0" x2="451.5" y2="647.8" stroke="#000" stroke-width="1.7"/>
<line x1="447.0" y1="641.0" x2="456.0" y2="641.0" stroke="#000" stroke-width="1.7"/>
<line x1="470.7" y1="602.3" x2="470.7" y2="618.0" stroke="#000" stroke-width="1.7"/>
<line x1="466.2" y1="602.3" x2="475.2" y2="602.3" stroke="#000" stroke-width="1.7"/>
<line x1="490.1" y1="555.6" x2="490.1" y2="575.8" stroke="#000" stroke-width="1.7"/>
<line x1="485.6" y1="555.6" x2="494.6" y2="555.6" stroke="#000" stroke-width="1.7"/>
<text x="383.3" y="751.3" font-size="12.5" font-weight="normal" text-anchor="middle" stroke="#000" stroke-width="0.45" letter-spacing="-0.4">WT</text>
<text x="470.3" y="752.3" font-size="12.5" font-weight="normal" text-anchor="middle" stroke="#000" stroke-width="0.45" >Syk KO</text>
<text transform="translate(312.3,633.3) rotate(-90)" x="0" y="0" font-size="10.1" font-weight="bold" text-anchor="middle" >Phalloidin Binding (MFI)</text>
<rect x="419.5" y="526.5" width="61.0" height="46.5" fill="#fff" stroke="#444" stroke-width="1.1" />
<rect x="428.40000000000003" y="531.5999999999999" width="6.0" height="5.4" fill="#fff" stroke="#000" stroke-width="1.6"/>
<text x="437.5" y="537.7" font-size="10" font-weight="bold" text-anchor="start" >Control</text>
<rect x="427.6" y="546.3" width="7.6" height="7.0" fill="#000"/>
<text x="437.5" y="553.5" font-size="10" font-weight="bold" text-anchor="start" letter-spacing="0.25">MIP-1α</text>
<rect x="428.40000000000003" y="562.3" width="6.0" height="5.4" fill="#fff" stroke="#000" stroke-width="1.6"/>
<path d="M430.0 566.7 L430.0 564.9 L431.40000000000003 563.8 L432.8 564.9 L432.8 566.7" fill="none" stroke="#000" stroke-width="1.1"/>
<text x="437.5" y="568.6" font-size="10" font-weight="bold" text-anchor="start" letter-spacing="0.5">MIP-2</text>
</svg></body></html>
